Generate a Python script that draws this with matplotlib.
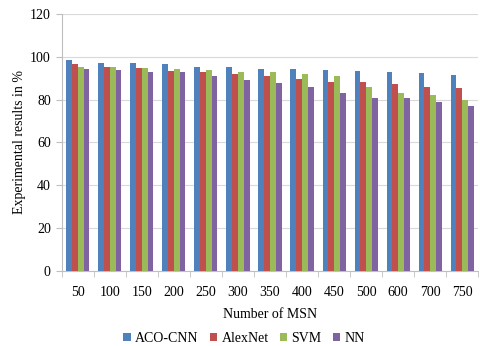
import numpy as np
import matplotlib.pyplot as plt

plt.rcParams['font.family'] = ['Liberation Serif', 'DejaVu Serif']

msn = ['50', '100', '150', '200', '250', '300', '350', '400', '450', '500', '600', '700', '750']
aco_cnn = [98.3, 97.2, 96.9, 96.4, 95.2, 95.2, 94.4, 94.1, 93.8, 93.1, 92.7, 92.2, 91.6]
alexnet = [96.6, 95.2, 94.8, 93.1, 92.8, 91.7, 90.9, 89.4, 88.3, 88.0, 87.2, 85.9, 85.2]
svm = [95.3, 95.2, 94.5, 94.2, 93.6, 93.0, 92.8, 92.0, 90.8, 85.9, 83.1, 81.9, 80.0]
nn = [94.2, 93.6, 93.0, 92.7, 90.8, 89.2, 87.8, 85.8, 83.1, 80.9, 80.6, 78.8, 77.2]

series = [('ACO-CNN', aco_cnn, '#4F81BD'),
          ('AlexNet', alexnet, '#C0504D'),
          ('SVM', svm, '#9BBB59'),
          ('NN', nn, '#8064A2')]

fig = plt.figure(figsize=(4.8, 3.46), dpi=100)
ax = fig.add_axes([0.129, 0.217, 0.867, 0.743])

x = np.arange(len(msn))
w = 0.18
for i, (name, vals, col) in enumerate(series):
    ax.bar(x + (i - 1.5) * w, vals, width=w, color=col, label=name, zorder=3)

ax.set_xlim(-0.5, len(msn) - 0.5)
ax.set_ylim(0, 120)
ax.set_yticks(range(0, 121, 20))
ax.set_xticks(x)
ax.set_xticklabels(msn)
ax.set_xticks(np.arange(-0.5, len(msn), 1), minor=True)
ax.tick_params(axis='x', which='major', length=0, labelsize=10, pad=11)
ax.tick_params(axis='x', which='minor', length=4, color='#BFBFBF')
ax.tick_params(axis='y', length=4, color='#BFBFBF', labelsize=10, pad=4)
ax.grid(axis='y', color='#D9D9D9', linewidth=0.8, zorder=0)

for s in ['top', 'right']:
    ax.spines[s].set_visible(False)
for s in ['left', 'bottom']:
    ax.spines[s].set_color('#BFBFBF')

ax.set_xlabel('Number of MSN', fontsize=10, labelpad=6)
ax.set_ylabel('Experimental results in %', fontsize=10, labelpad=3)

ax.legend(loc='center', bbox_to_anchor=(0.4375, -0.262), ncol=4, frameon=False,
          fontsize=10, handlelength=0.55, handleheight=0.55, handletextpad=0.3,
          columnspacing=0.8)

fig.savefig('out.png', dpi=100)
